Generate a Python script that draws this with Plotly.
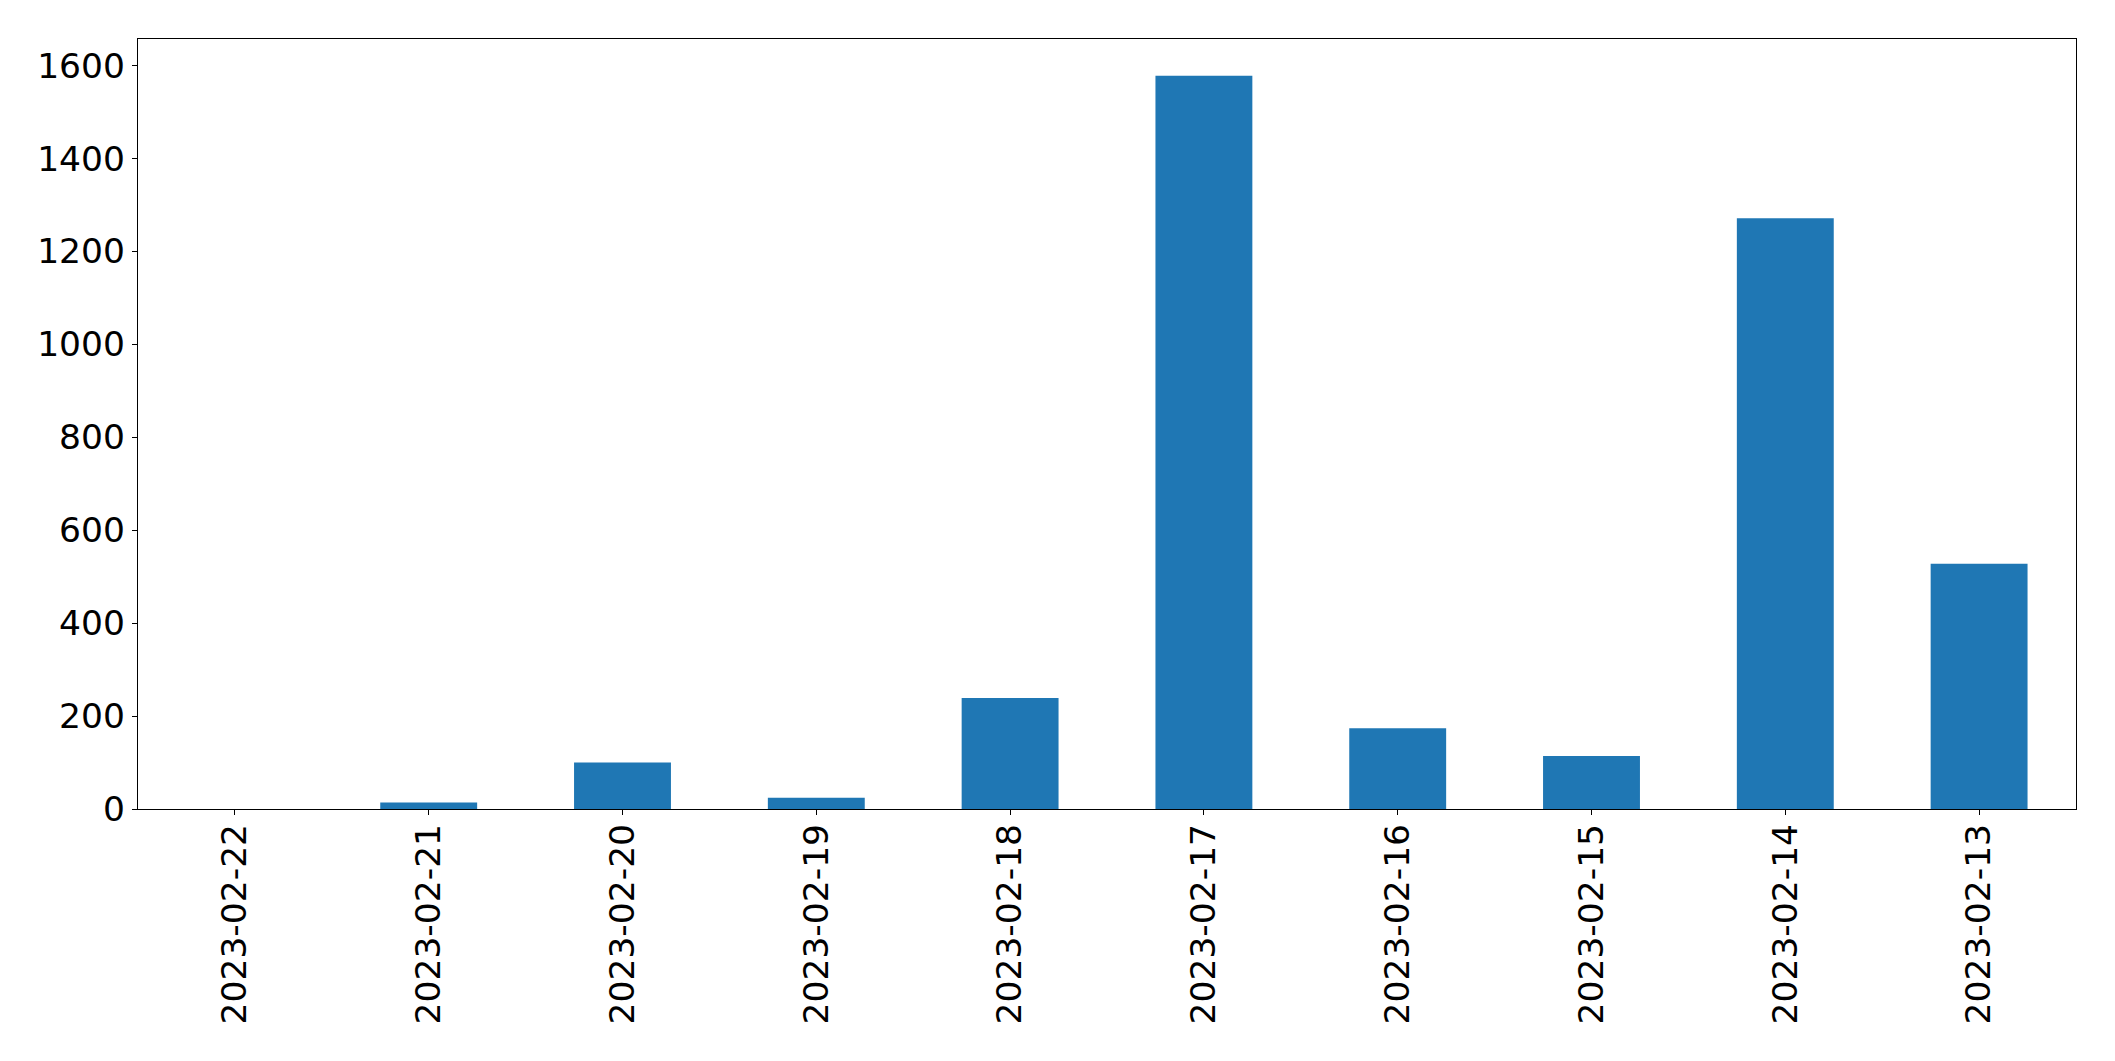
import plotly.graph_objects as go

dates = ["2023-02-22", "2023-02-21", "2023-02-20", "2023-02-19", "2023-02-18",
         "2023-02-17", "2023-02-16", "2023-02-15", "2023-02-14", "2023-02-13"]
counts = [0, 14, 100, 24, 239, 1578, 174, 114, 1271, 528]
y_ticks = [0, 200, 400, 600, 800, 1000, 1200, 1400, 1600]

fig = go.Figure(go.Bar(x=dates, y=counts, width=0.5, marker=dict(color="#1f77b4", line=dict(width=0))))

axis_common = dict(showline=True, linecolor="black", linewidth=1.3, mirror=True,
                   ticks="outside", ticklen=5, tickwidth=1.3, tickcolor="black",
                   showgrid=False, zeroline=False,
                   tickfont=dict(family="DejaVu Sans", size=34.5, color="black"))

fig.update_layout(
    width=2107, height=1053,
    margin=dict(l=130, r=39, t=31, b=252, autoexpand=False),
    paper_bgcolor="white", plot_bgcolor="white",
    showlegend=False,
    xaxis=dict(type="category", range=[-0.5, 9.5], tickangle=-90, ticklabelstandoff=-5, **axis_common),
    yaxis=dict(range=[0, 1657], tickvals=y_ticks, ticktext=[str(v) for v in y_ticks], **axis_common),
)

fig.write_html("out.html")
